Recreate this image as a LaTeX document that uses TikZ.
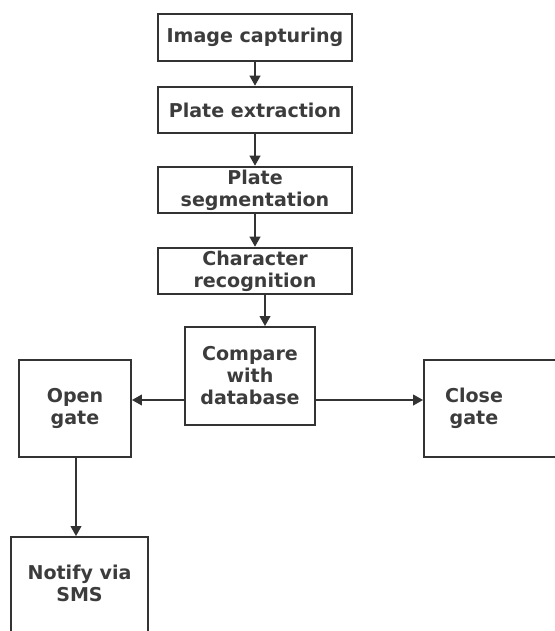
\documentclass[tikz,border=0pt]{standalone}
\usepackage{fontspec}
\setmainfont{DejaVu Sans}
\definecolor{boxline}{RGB}{51,51,51}
\definecolor{boxtext}{RGB}{60,60,60}
\usetikzlibrary{arrows.meta,positioning}

\begin{document}
\begin{tikzpicture}[
    x=0.75pt, y=-0.75pt,
    flowbox/.style={draw=boxline, line width=1.4pt, minimum width=146pt,
                minimum height=35pt, font=\fontsize{14.3}{16.5}\selectfont\bfseries,
                text=boxtext, align=center, inner sep=2pt},
    sidebox/.style={flowbox, minimum width=84pt, minimum height=73pt},
    boxlabel/.style={font=\fontsize{14.3}{16.5}\selectfont\bfseries, text=boxtext, align=center},
    arr/.style={-{Triangle[length=7.5pt,width=8pt]}, line width=1.4pt, boxline}
  ]
    \useasboundingbox (0,0) rectangle (555,631);
    \clip (0,0) rectangle (555,631);

    % Main column
    \node[flowbox] (capture) at (255,37.5) {Image capturing};
    \node[flowbox] (extract) at (255,110)  {Plate extraction};
    \node[flowbox] (segment) at (255,190)  {Plate\\segmentation};
    \node[flowbox] (recog)   at (255,271)  {Character\\recognition};
    \node[flowbox, minimum width=97.5pt, minimum height=73.5pt] (compare) at (250,376)
      {Compare\\with\\database};

    % Gate boxes
    \node[sidebox] (open) at (75,408.5) {Open\\gate};
    \node[sidebox, minimum width=102pt] (close) at (492,408.5) {};
    \node[boxlabel] (closetxt) at (474,408) {Close\\gate};
    \node[sidebox, minimum width=103pt, minimum height=81pt] (notify) at (79.5,591) {};
    \node[boxlabel] (notifytxt) at (79.5,583) {Notify via\\SMS};

    % Helper points for the offset arrows
    \coordinate (downx) at (265,0);
    \coordinate (sidey) at (0,400);
    \coordinate (gatex) at (76,0);

    % Arrows
    \draw[arr] (capture) -- (extract);
    \draw[arr] (extract) -- (segment);
    \draw[arr] (segment) -- (recog);
    \draw[arr] (recog.south -| downx) -- (compare.north -| downx);
    \draw[arr] (compare.west |- sidey) -- (open.east |- sidey);
    \draw[arr] (compare.east |- sidey) -- (close.west |- sidey);
    \draw[arr] (open.south -| gatex) -- (notify.north -| gatex);
  \end{tikzpicture}
\end{document}
